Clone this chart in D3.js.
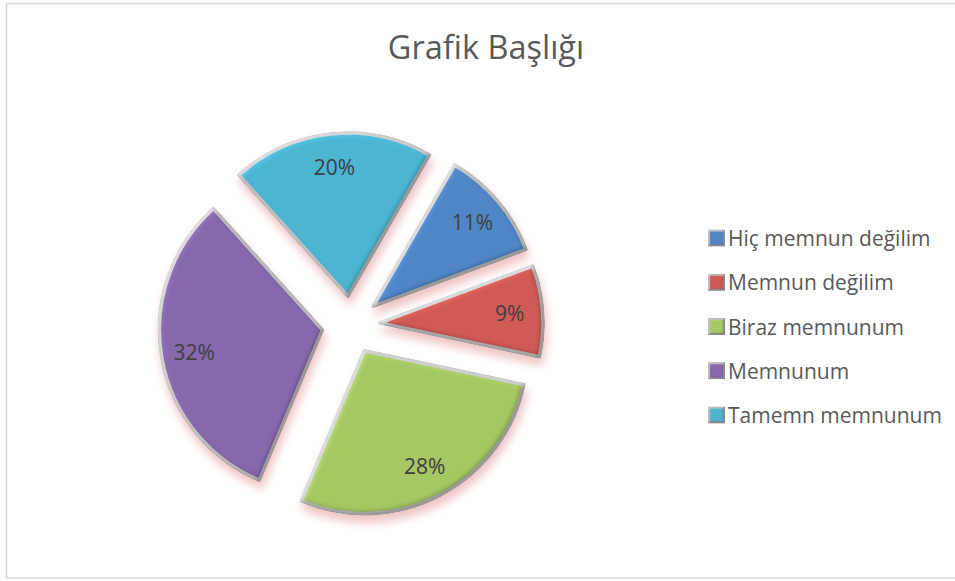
<!DOCTYPE html>
<html lang="tr">
<head>
<meta charset="UTF-8">
<title>Grafik Başlığı</title>
<script src="https://cdn.jsdelivr.net/npm/d3@7"></script>
<style>
  body { margin: 0; background: #fff; }
  svg { display: block; font-family: "Open Sans", "Noto Sans", sans-serif; }
</style>
</head>
<body>
<svg width="955" height="581"></svg>
<script>
// data
var categories = ["Hiç memnun değilim", "Memnun değilim", "Biraz memnunum", "Memnunum", "Tamemn memnunum"];
var values = [11, 9, 28, 32, 20];
var colors = ["#5086c6", "#d05a56", "#a6c764", "#8668ac", "#4cb5d2"];
var title = "Grafik Başlığı";

var width = 955, height = 581;
var svg = d3.select("svg");

// chart frame
svg.append("rect")
    .attr("x", 6.5).attr("y", 3.5)
    .attr("width", 960).attr("height", 574.5)
    .attr("fill", "#fff")
    .attr("stroke", "#d9d9d9")
    .attr("stroke-width", 1.5);

var defs = svg.append("defs");

// bevel + pink soft shadow, like the office "bevel" effect
function bevelFilter(id, blur, scale, shadow) {
    var f = defs.append("filter").attr("id", id)
        .attr("x", "-20%").attr("y", "-20%").attr("width", "140%").attr("height", "140%");
    f.append("feGaussianBlur").attr("in", "SourceAlpha").attr("stdDeviation", blur).attr("result", "b");
    f.append("feDiffuseLighting").attr("in", "b").attr("surfaceScale", scale)
        .attr("diffuseConstant", 1).attr("lighting-color", "#fff").attr("result", "light")
        .append("feDistantLight").attr("azimuth", 225).attr("elevation", 40);
    // flat area keeps its colour, lit edges brighter, far edges only a bit darker
    f.append("feComposite").attr("in", "SourceGraphic").attr("in2", "light")
        .attr("operator", "arithmetic").attr("k1", 0.7).attr("k2", 0.55).attr("k3", 0).attr("k4", 0)
        .attr("result", "lit");
    f.append("feComposite").attr("in", "lit").attr("in2", "SourceAlpha").attr("operator", "in").attr("result", "bev");
    if (shadow) {
        f.append("feGaussianBlur").attr("in", "SourceAlpha").attr("stdDeviation", 5).attr("result", "sb");
        f.append("feOffset").attr("in", "sb").attr("dx", 2).attr("dy", 7).attr("result", "so");
        f.append("feFlood").attr("flood-color", "#e49a9a").attr("flood-opacity", 0.6).attr("result", "fl");
        f.append("feComposite").attr("in", "fl").attr("in2", "so").attr("operator", "in").attr("result", "sh");
        var m = f.append("feMerge");
        m.append("feMergeNode").attr("in", "sh");
        m.append("feMergeNode").attr("in", "bev");
    }
}
bevelFilter("bevel", 3, 5, true);
bevelFilter("bevelSmall", 1.3, 4, false);

// title
svg.append("text")
    .attr("x", 486).attr("y", 59)
    .attr("text-anchor", "middle")
    .attr("font-size", 32.5)
    .attr("fill", "#595959")
    .text(title);

// pie
var cx = 351, cy = 325, radius = 163, explode = 29;
var pie = d3.pie().sort(null)
    .startAngle(30 * Math.PI / 180)
    .endAngle(390 * Math.PI / 180);
var arc = d3.arc().innerRadius(0).outerRadius(radius);
var arcs = pie(values);

function offset(d, dist) {
    var a = (d.startAngle + d.endAngle) / 2;
    return [Math.sin(a) * dist, -Math.cos(a) * dist];
}

var pieG = svg.append("g").attr("transform", "translate(" + cx + "," + cy + ")");

pieG.selectAll("path")
    .data(arcs)
    .enter()
    .append("path")
    .attr("d", arc)
    .attr("transform", function(d) { return "translate(" + offset(d, explode) + ")"; })
    .attr("fill", function(d, i) { return colors[i]; })
    .attr("stroke", "#c8c8c8")
    .attr("stroke-width", 3.5)
    .attr("stroke-linejoin", "round")
    .attr("filter", "url(#bevel)");

pieG.selectAll("text")
    .data(arcs)
    .enter()
    .append("text")
    .attr("transform", function(d) {
        var o = offset(d, explode + 130);
        return "translate(" + o + ")";
    })
    .attr("text-anchor", "middle")
    .attr("dominant-baseline", "central")
    .attr("font-size", 21)
    .attr("fill", "#404040")
    .text(function(d) { return d.value + "%"; });

// legend
var legendY = d3.scalePoint().domain(categories).range([238, 415]);
var legend = svg.append("g");
var items = legend.selectAll("g")
    .data(categories)
    .enter()
    .append("g")
    .attr("transform", function(d) { return "translate(709," + legendY(d) + ")"; });

items.append("rect")
    .attr("x", 0).attr("y", -7.5)
    .attr("width", 15).attr("height", 15)
    .attr("fill", function(d, i) { return colors[i]; })
    .attr("stroke", "#b5b5b5")
    .attr("stroke-width", 2)
    .attr("filter", "url(#bevelSmall)");

items.append("text")
    .attr("x", 19).attr("y", 0)
    .attr("dominant-baseline", "central")
    .attr("font-size", 21)
    .attr("fill", "#595959")
    .text(function(d) { return d; });
</script>
</body>
</html>
